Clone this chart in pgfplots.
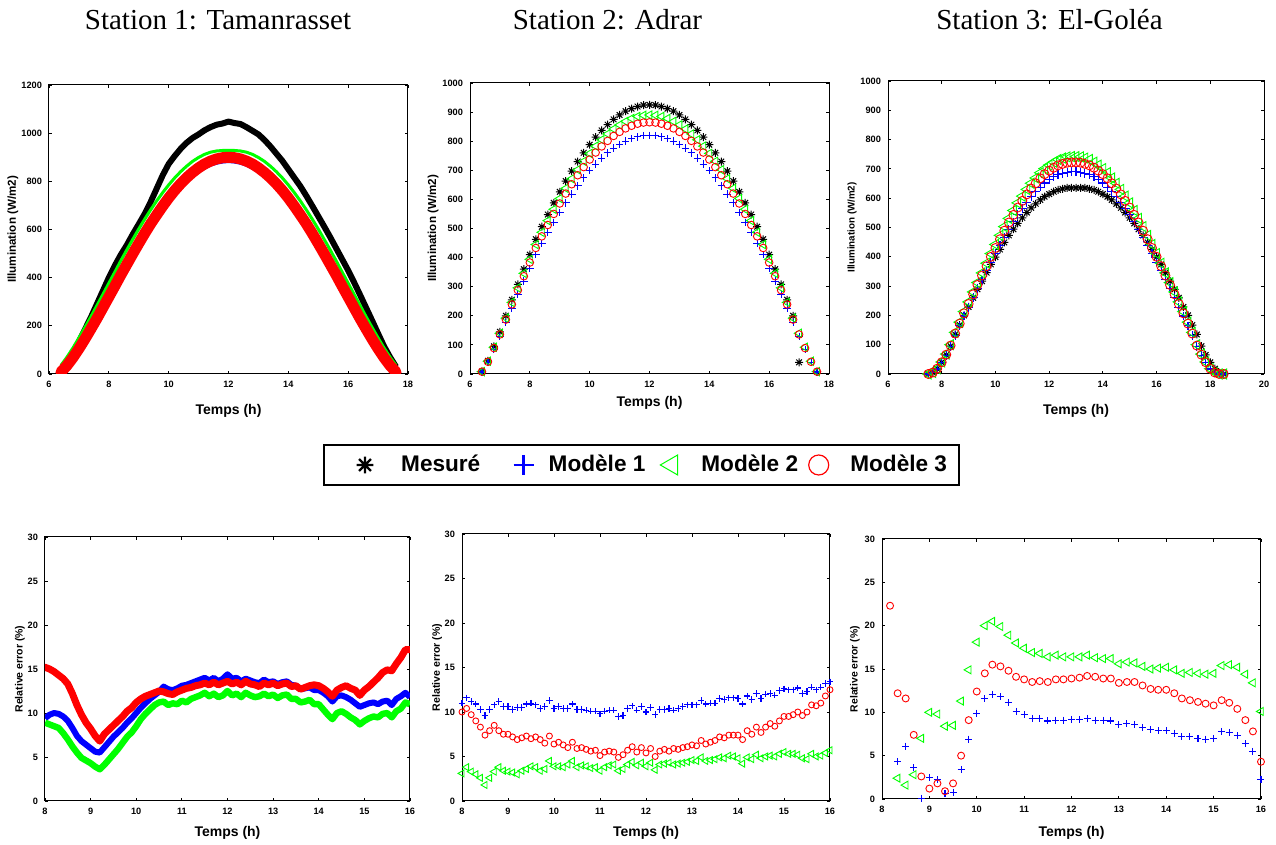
\documentclass[border=0pt]{standalone}
\usepackage{fontspec}
\setmainfont{Liberation Sans}
\newfontfamily\titlefont{Liberation Serif}
\usepackage{pgfplots}
\usepackage{pgfplotstable}
\pgfplotsset{compat=1.18}

\definecolor{mblue}{rgb}{0,0,1}
\definecolor{mgreen}{rgb}{0,1,0}
\definecolor{mred}{rgb}{1,0,0}

% MATLAB-like '*' marker: a plus and a cross together
\pgfdeclareplotmark{mstar}{%
  \pgfpathmoveto{\pgfqpoint{-\pgfplotmarksize}{0pt}}\pgfpathlineto{\pgfqpoint{\pgfplotmarksize}{0pt}}%
  \pgfpathmoveto{\pgfqpoint{0pt}{-\pgfplotmarksize}}\pgfpathlineto{\pgfqpoint{0pt}{\pgfplotmarksize}}%
  \pgfpathmoveto{\pgfqpoint{-.707\pgfplotmarksize}{-.707\pgfplotmarksize}}\pgfpathlineto{\pgfqpoint{.707\pgfplotmarksize}{.707\pgfplotmarksize}}%
  \pgfpathmoveto{\pgfqpoint{-.707\pgfplotmarksize}{.707\pgfplotmarksize}}\pgfpathlineto{\pgfqpoint{.707\pgfplotmarksize}{-.707\pgfplotmarksize}}%
  \pgfusepathqstroke}

\pgfplotsset{
  mat/.style={scale only axis, axis line style={line width=0.5pt},
    tick align=inside, major tick length=1.7pt, tick style={line width=0.4pt, black},
    ticklabel style={font=\bfseries\fontsize{4.6}{5}\selectfont},
    /pgf/number format/assume math mode=true, /pgf/number format/1000 sep={},
    xlabel={Temps (h)}, xlabel style={font=\bfseries\fontsize{7}{8}\selectfont, anchor=center},
    ylabel style={anchor=center}, anchor=south west},
  mes/.style={only marks, mark=mstar, black, line width=0.5pt, mark size=#1},
  mun/.style={only marks, mark=+, mblue, line width=0.55pt, mark size=#1},
  mde/.style={only marks, mark=triangle, mark options={rotate=90}, mgreen, line width=0.45pt, mark size=#1},
  mtr/.style={only marks, mark=o, mred, line width=0.45pt, mark size=#1},
  limg/.style 2 args={legend image code/.code={\path (-#1,0pt) (#2,0pt); \draw[##1] plot coordinates {(0pt,0pt)};}},
}

% Station 1: illumination
\pgfplotstableread{
t B b g r
6.4 5 8 36 8
6.6 40 34 70 35
6.8 85 67 108 68
7.0 135 103 150 105
7.2 185 142 193 145
7.4 235 183 238 187
7.6 290 225 284 230
7.8 345 269 330 275
8.0 400 313 377 320
8.2 450 357 423 365
8.4 495 402 470 411
8.6 535 445 515 455
8.8 580 488 559 499
9.0 622 530 602 542
9.2 665 571 643 584
9.4 715 610 682 624
9.6 770 647 719 661
9.8 825 682 753 697
10.0 872 714 785 731
10.2 905 745 814 762
10.4 935 772 840 790
10.6 960 797 863 815
10.8 980 819 883 837
11.0 995 837 899 856
11.2 1012 852 912 872
11.4 1025 865 921 884
11.6 1035 873 926 893
11.8 1040 878 928 898
12.0 1048 880 928 900
12.2 1042 878 928 898
12.4 1038 873 926 893
12.6 1025 865 921 884
12.8 1010 852 912 872
13.0 995 837 899 856
13.2 972 819 883 837
13.4 945 797 863 815
13.6 915 772 840 790
13.8 885 745 814 762
14.0 850 714 785 731
14.2 815 682 753 697
14.4 780 647 719 661
14.6 740 610 682 624
14.8 698 571 643 584
15.0 655 530 602 542
15.2 612 488 559 499
15.4 568 445 515 455
15.6 522 402 470 411
15.8 476 357 423 365
16.0 430 313 377 320
16.2 380 269 330 275
16.4 328 225 284 230
16.6 275 183 238 187
16.8 222 142 193 145
17.0 168 103 150 105
17.2 115 67 108 68
17.4 70 34 70 35
17.6 30 8 36 8
}\pone

% Station 2: illumination
\pgfplotstableread{
t B b g r
6.4 8 7 8 8
6.6 45 40 44 42
6.8 95 84 92 89
7.0 145 129 140 136
7.2 200 177 192 187
7.4 255 226 246 239
7.6 308 273 296 288
7.8 360 319 346 336
8.0 410 363 394 383
8.2 463 410 445 433
8.4 506 448 487 473
8.6 548 486 527 512
8.8 588 521 566 550
9.0 626 555 603 586
9.2 663 588 638 620
9.4 697 618 671 652
9.6 730 647 702 683
9.8 760 674 731 711
10.0 788 699 758 737
10.2 814 721 783 761
10.4 837 742 805 782
10.6 857 760 825 801
10.8 875 776 842 818
11.0 890 789 856 832
11.2 903 800 868 844
11.4 912 809 878 853
11.6 919 815 885 860
11.8 924 819 889 864
12.0 925 820 890 865
12.2 924 819 889 864
12.4 919 815 885 860
12.6 912 809 878 853
12.8 903 800 868 844
13.0 890 789 856 832
13.2 875 776 842 818
13.4 857 760 825 801
13.6 837 742 805 782
13.8 814 721 783 761
14.0 788 699 758 737
14.2 760 674 731 711
14.4 730 647 702 683
14.6 697 618 671 652
14.8 663 588 638 620
15.0 626 555 603 586
15.2 588 521 566 550
15.4 548 486 527 512
15.6 506 448 487 473
15.8 463 410 445 433
16.0 410 363 394 383
16.2 360 319 346 336
16.4 308 273 296 288
16.6 255 226 246 239
16.8 200 177 192 187
17.0 40 129 140 136
17.2 nan 84 92 89
17.4 nan 40 44 42
17.6 nan 7 8 8
}\ptwo

% Station 3: illumination
\pgfplotstableread{
t B b g r
7.50 0 0 0 0
7.67 5 5 5 5
7.83 18 17 18 18
8.00 40 38 41 40
8.17 65 63 68 66
8.33 95 93 100 97
8.50 135 132 142 138
8.67 167 164 177 172
8.83 200 198 213 207
9.00 229 228 246 239
9.17 260 260 280 272
9.33 289 291 312 304
9.50 317 321 345 336
9.67 346 352 378 368
9.83 374 382 411 400
10.00 399 411 442 430
10.17 425 440 473 460
10.33 449 467 503 489
10.50 473 494 531 517
10.67 494 519 558 543
10.83 514 543 584 568
11.00 533 565 607 591
11.17 551 586 630 613
11.33 567 605 651 633
11.50 581 622 669 651
11.67 594 638 687 668
11.83 605 652 701 682
12.00 614 663 713 694
12.17 622 673 723 704
12.33 628 680 732 712
12.50 632 685 737 717
12.67 635 689 741 721
12.83 635 690 742 722
13.00 635 690 742 722
13.17 635 689 741 721
13.33 635 685 737 717
13.50 632 680 732 712
13.67 628 673 723 704
13.83 622 663 713 694
14.00 614 652 701 682
14.17 605 638 687 668
14.33 594 622 669 651
14.50 581 605 651 633
14.67 567 586 630 613
14.83 551 565 607 591
15.00 533 543 584 568
15.17 514 519 558 543
15.33 494 494 531 517
15.50 473 467 503 489
15.67 449 440 473 460
15.83 425 411 442 430
16.00 399 382 411 400
16.17 374 352 378 368
16.33 346 321 345 336
16.50 317 291 312 304
16.67 289 260 280 272
16.83 260 228 246 239
17.00 229 198 213 207
17.17 200 164 177 172
17.33 167 132 142 138
17.50 135 93 100 97
17.67 95 63 68 66
17.83 65 38 41 40
18.00 40 17 18 18
18.17 18 5 5 5
18.33 5 0 0 0
18.50 0 0 0 0
}\pthree

% Station 1: relative error
\pgfplotstableread{
t b g r
8.0 9.4 8.9 15.2
8.1 9.8 8.7 15.0
8.2 10.0 8.5 14.7
8.3 9.9 8.3 14.3
8.4 9.6 7.7 13.9
8.5 9.1 7.0 13.3
8.6 8.3 6.2 12.2
8.7 7.4 5.5 10.9
8.8 6.8 4.9 9.8
8.9 6.4 4.6 8.9
9.0 6.0 4.3 8.2
9.1 5.6 3.9 7.4
9.2 5.5 3.6 6.8
9.3 6.1 4.1 7.6
9.4 6.7 4.7 8.1
9.5 7.3 5.3 8.6
9.6 7.8 5.9 9.1
9.7 8.3 6.6 9.6
9.8 8.9 7.3 10.2
9.9 9.4 7.8 10.6
10.0 10.0 8.5 11.2
10.1 10.6 9.3 11.6
10.2 11.1 9.9 11.9
10.3 11.6 10.4 12.1
10.4 12.0 10.9 12.3
10.5 12.4 11.2 12.5
10.6 13.0 11.3 12.4
10.7 12.7 10.9 12.2
10.8 12.6 11.1 12.1
10.9 12.8 11.0 12.4
11.0 13.1 11.4 12.6
11.1 13.2 11.2 12.8
11.2 13.4 11.6 12.9
11.3 13.6 11.8 13.1
11.4 13.8 12.0 13.2
11.5 14.0 12.3 13.4
11.6 13.7 11.9 13.2
11.7 14.0 12.2 13.5
11.8 13.6 11.8 13.2
11.9 13.9 12.0 13.4
12.0 14.4 12.5 13.6
12.1 13.9 12.0 13.3
12.2 14.0 12.2 13.5
12.3 13.6 11.8 13.2
12.4 13.9 12.3 13.6
12.5 13.7 12.0 13.3
12.6 13.5 11.8 13.2
12.7 13.4 11.9 13.0
12.8 13.8 12.2 13.4
12.9 13.5 11.9 13.2
13.0 13.6 12.1 13.4
13.1 13.3 11.7 13.1
13.2 13.5 12.0 13.3
13.3 13.6 12.1 13.4
13.4 13.2 11.6 13.0
13.5 13.1 11.6 13.1
13.6 12.7 11.2 12.7
13.7 12.8 11.3 12.9
13.8 12.9 11.5 13.1
13.9 12.6 11.0 13.2
14.0 12.6 11.0 13.1
14.1 12.3 10.4 12.8
14.2 11.9 9.8 12.4
14.3 11.3 9.3 11.9
14.4 11.9 10.0 12.6
14.5 12.0 10.2 12.9
14.6 11.8 9.9 13.1
14.7 11.5 9.5 12.8
14.8 11.1 9.2 12.6
14.9 10.7 8.7 12.0
15.0 10.9 9.1 12.6
15.1 11.1 9.4 13.0
15.2 11.2 9.6 13.5
15.3 11.0 9.5 14.0
15.4 11.3 9.9 14.6
15.5 11.4 10.0 14.9
15.6 10.9 9.5 14.8
15.7 11.6 10.2 15.6
15.8 11.9 10.5 16.3
15.9 12.3 11.2 17.2
16.0 11.8 11.0 17.2
}\pfour

% Station 2: relative error
\pgfplotstableread{
t b g r
8.0 11.0 3.1 10.0
8.1 11.6 3.8 10.4
8.2 11.2 3.3 9.7
8.3 10.9 3.0 9.0
8.4 10.3 2.6 8.3
8.5 9.6 1.8 7.4
8.6 10.3 2.6 7.9
8.7 10.8 3.3 8.5
8.8 11.2 3.8 7.9
8.9 10.6 3.4 7.5
9.0 10.6 3.3 7.5
9.1 10.3 3.2 7.2
9.2 10.5 3.0 6.9
9.3 10.5 3.4 7.1
9.4 10.9 3.6 7.3
9.5 11.0 3.9 7.0
9.6 10.8 3.8 7.2
9.7 10.4 3.4 6.9
9.8 10.6 3.6 6.5
9.9 11.3 4.5 7.3
10.0 10.4 3.9 6.4
10.1 10.6 3.9 6.6
10.2 10.4 3.8 6.3
10.3 10.4 4.1 6.0
10.4 10.9 4.5 6.6
10.5 10.3 3.8 5.9
10.6 10.3 4.0 6.0
10.7 10.2 3.9 5.8
10.8 10.1 3.7 5.6
10.9 10.1 3.8 5.7
11.0 9.8 3.4 5.1
11.1 10.1 3.8 5.5
11.2 10.2 4.0 5.6
11.3 10.2 4.1 5.5
11.4 9.5 3.4 4.9
11.5 9.6 3.6 5.2
11.6 10.4 4.1 5.7
11.7 10.7 4.4 6.1
11.8 10.2 4.0 5.5
11.9 10.6 4.3 6.0
12.0 10.0 3.9 5.4
12.1 10.5 4.3 5.9
12.2 9.7 3.5 5.0
12.3 10.3 4.1 5.6
12.4 10.3 4.2 5.8
12.5 10.4 4.3 5.6
12.6 10.2 4.1 5.9
12.7 10.4 4.2 5.8
12.8 10.6 4.3 6.0
12.9 10.8 4.4 6.1
13.0 10.8 4.6 6.3
13.1 10.8 4.5 6.2
13.2 11.3 4.9 6.8
13.3 10.9 4.5 6.4
13.4 11.0 4.6 6.6
13.5 11.0 4.7 6.8
13.6 11.5 4.9 7.2
13.7 11.4 4.8 7.1
13.8 11.6 5.1 7.4
13.9 11.6 5.0 7.4
14.0 11.5 4.8 7.4
14.1 10.9 4.2 6.9
14.2 11.8 4.9 7.9
14.3 11.4 4.7 7.5
14.4 12.1 5.2 8.3
14.5 11.5 4.8 7.7
14.6 12.0 5.0 8.3
14.7 12.1 5.1 8.7
14.8 11.9 5.0 8.4
14.9 12.4 5.3 9.0
15.0 12.6 5.5 9.5
15.1 12.5 5.3 9.5
15.2 12.5 5.3 9.7
15.3 12.7 5.2 10.0
15.4 12.1 4.8 9.6
15.5 12.3 4.7 10.0
15.6 12.8 5.3 10.8
15.7 12.5 5.0 10.7
15.8 12.8 5.1 11.0
15.9 13.2 5.4 11.8
16.0 13.4 5.7 12.5
}\pfive

% Station 3: relative error
\pgfplotstableread{
t b g r
8.17 nan nan 22.3
8.33 4.3 2.4 12.2
8.50 6.1 1.6 11.6
8.67 3.6 2.8 7.4
8.83 0.1 7.0 2.6
9.00 2.5 10.0 1.2
9.17 2.2 9.8 1.8
9.33 0.6 8.4 0.9
9.50 0.8 8.5 1.8
9.67 3.4 11.3 5.0
9.83 6.9 14.9 9.1
10.00 9.9 18.1 12.4
10.17 11.6 20.0 14.5
10.33 12.1 20.5 15.5
10.50 11.8 19.9 15.3
10.67 11.1 18.9 14.8
10.83 10.1 18.0 14.1
11.00 9.7 17.4 13.8
11.17 9.3 16.9 13.5
11.33 9.3 16.8 13.6
11.50 9.0 16.4 13.5
11.67 9.1 16.6 13.8
11.83 9.1 16.4 13.8
12.00 9.2 16.4 13.9
12.17 9.2 16.4 14.0
12.33 9.3 16.6 14.2
12.50 9.1 16.3 14.1
12.67 9.1 16.2 13.9
12.83 9.0 16.2 13.9
13.00 8.6 15.6 13.4
13.17 8.7 15.8 13.5
13.33 8.6 15.7 13.5
13.50 8.2 15.3 13.1
13.67 8.0 15.0 12.7
13.83 7.9 15.1 12.6
14.00 7.9 15.2 12.6
14.17 7.6 14.9 12.2
14.33 7.2 14.5 11.6
14.50 7.2 14.6 11.4
14.67 7.0 14.5 11.2
14.83 6.9 14.4 11.0
15.00 7.0 14.5 10.8
15.17 7.8 15.4 11.4
15.33 7.7 15.5 11.1
15.50 7.3 15.2 10.4
15.67 6.4 14.4 9.1
15.83 5.5 13.4 7.8
16.00 2.3 10.1 4.3
}\psix

\begin{document}
\begin{tikzpicture}
\useasboundingbox (0,0) rectangle (638pt,422.5pt);

\node[anchor=base, font=\titlefont\fontsize{14.5}{16}\selectfont] at (109pt,407.5pt) {Station 1: Tamanrasset};
\node[anchor=base, font=\titlefont\fontsize{14.5}{16}\selectfont] at (303.75pt,407.5pt) {Station 2: Adrar};
\node[anchor=base, font=\titlefont\fontsize{14.5}{16}\selectfont] at (524.75pt,407.5pt) {Station 3: El-Goléa};

% top row
\begin{axis}[mat, at={(24.5pt,235.5pt)}, width=179.5pt, height=144.5pt,
  xmin=6, xmax=18, ymin=0, ymax=1200, xtick={6,8,...,18}, ytick={0,200,...,1200},
  ylabel={Illumination (W/m2)}, ylabel style={font=\bfseries\fontsize{5.8}{6}\selectfont, at={(axis description cs:-0.1003,0.5)}},
  xlabel style={at={(axis description cs:0.5,-0.128)}}]
  \addplot[black, line width=3pt, line join=round] table[x=t, y=B] {\pone};
  \addplot[mblue, line width=1pt] table[x=t, y=b] {\pone};
  \addplot[mgreen, line width=1.5pt, line join=round] table[x=t, y=g] {\pone};
  \addplot[mred, line width=5.5pt, line join=round, line cap=round] table[x=t, y=r] {\pone};
\end{axis}

\begin{axis}[mat, at={(235pt,235.5pt)}, width=179.5pt, height=145.5pt,
  xmin=6, xmax=18, ymin=0, ymax=1000, xtick={6,8,...,18}, ytick={0,100,...,1000},
  ylabel={Illumination (W/m2)}, ylabel style={font=\bfseries\fontsize{5.8}{6}\selectfont, at={(axis description cs:-0.103,0.5)}},
  xlabel style={at={(axis description cs:0.5,-0.0997)}},
  legend columns=4,
  legend style={at={(-0.4095,-0.3127)}, anchor=west, draw=black, line width=0.8pt,
    inner xsep=6pt, inner ysep=5pt, font=\bfseries\fontsize{11.3}{13}\selectfont,
    nodes={inner sep=0pt},
    /tikz/every odd column/.append style={column sep=0pt},
    /tikz/every even column/.append style={column sep=0pt}}]
  \addplot[mes=2pt, forget plot] table[x=t, y=B] {\ptwo};
  \addplot[mun=1.9pt, forget plot] table[x=t, y=b] {\ptwo};
  \addplot[mde=2.4pt, forget plot] table[x=t, y=g] {\ptwo};
  \addplot[mtr=1.9pt, forget plot] table[x=t, y=r] {\ptwo};
  \addlegendimage{mes=4.2pt, line width=1.2pt, limg={14pt}{17.5pt}}
  \addlegendentry{Mesuré}
  \addlegendimage{mun=5pt, line width=1.2pt, limg={21pt}{12pt}}
  \addlegendentry{Modèle 1}
  \addlegendimage{mde=5.8pt, line width=0.5pt, limg={13pt}{14.5pt}}
  \addlegendentry{Modèle 2}
  \addlegendimage{mtr=5pt, line width=0.6pt, limg={10pt}{15.5pt}}
  \addlegendentry{Modèle 3}
\end{axis}

\begin{axis}[mat, at={(444pt,235.5pt)}, width=188pt, height=146.5pt,
  xmin=6, xmax=20, ymin=0, ymax=1000, xtick={6,8,...,20}, ytick={0,100,...,1000},
  ylabel={Illumination (W/m2)}, ylabel style={font=\bfseries\fontsize{4.9}{5}\selectfont, at={(axis description cs:-0.0957,0.5)}},
  xlabel style={at={(axis description cs:0.5,-0.126)}}]
  \addplot[mes=2pt] table[x=t, y=B] {\pthree};
  \addplot[mun=2.2pt] table[x=t, y=b] {\pthree};
  \addplot[mde=2.9pt] table[x=t, y=g] {\pthree};
  \addplot[mtr=2.25pt] table[x=t, y=r] {\pthree};
\end{axis}

% bottom row
\begin{axis}[mat, at={(22.5pt,22pt)}, width=182.5pt, height=132pt,
  xmin=8, xmax=16, ymin=0, ymax=30, xtick={8,...,16}, ytick={0,5,...,30},
  ylabel={Relative error (\%)}, ylabel style={font=\bfseries\fontsize{5.25}{6}\selectfont, at={(axis description cs:-0.0685,0.5)}},
  xlabel style={at={(axis description cs:0.5,-0.121)}}]
  \addplot[mblue, line width=3pt, line join=round] table[x=t, y=b] {\pfour};
  \addplot[mgreen, line width=3.2pt, line join=round] table[x=t, y=g] {\pfour};
  \addplot[mred, line width=3.5pt, line join=round, line cap=round] table[x=t, y=r] {\pfour};
\end{axis}

\begin{axis}[mat, at={(231pt,22pt)}, width=184pt, height=133.5pt,
  xmin=8, xmax=16, ymin=0, ymax=30, xtick={8,...,16}, ytick={0,5,...,30},
  ylabel={Relative error (\%)}, ylabel style={font=\bfseries\fontsize{5.3}{6}\selectfont, at={(axis description cs:-0.0679,0.5)}},
  xlabel style={at={(axis description cs:0.5,-0.12)}}]
  \addplot[mun=1.6pt] table[x=t, y=b] {\pfive};
  \addplot[mde=2pt] table[x=t, y=g] {\pfive};
  \addplot[mtr=1.5pt] table[x=t, y=r] {\pfive};
\end{axis}

\begin{axis}[mat, at={(441pt,23pt)}, width=189.5pt, height=130pt,
  xmin=8, xmax=16, ymin=0, ymax=30, xtick={8,...,16}, ytick={0,5,...,30},
  ylabel={Relative error (\%)}, ylabel style={font=\bfseries\fontsize{5.2}{6}\selectfont, at={(axis description cs:-0.0712,0.5)}},
  xlabel style={at={(axis description cs:0.5,-0.131)}}]
  \addplot[mun=1.75pt] table[x=t, y=b] {\psix};
  \addplot[mde=2.3pt] table[x=t, y=g] {\psix};
  \addplot[mtr=1.75pt] table[x=t, y=r] {\psix};
\end{axis}
\end{tikzpicture}
\end{document}
